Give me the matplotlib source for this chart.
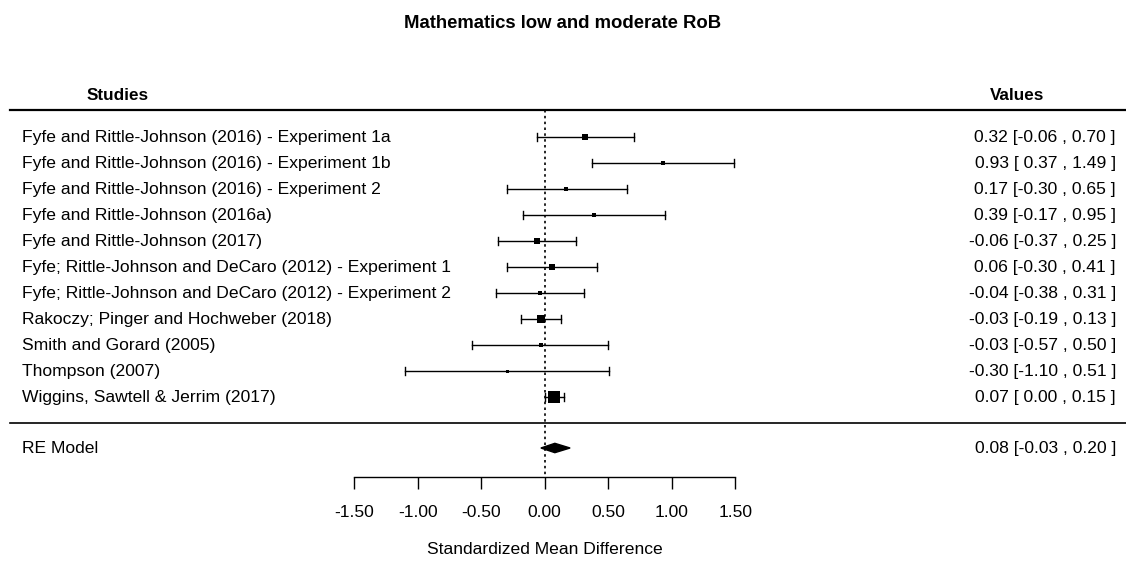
import matplotlib
matplotlib.use("Agg")
import matplotlib.pyplot as plt
from matplotlib.patches import Polygon

studies = [
    "Fyfe and Rittle-Johnson (2016) - Experiment 1a",
    "Fyfe and Rittle-Johnson (2016) - Experiment 1b",
    "Fyfe and Rittle-Johnson (2016) - Experiment 2",
    "Fyfe and Rittle-Johnson (2016a)",
    "Fyfe and Rittle-Johnson (2017)",
    "Fyfe; Rittle-Johnson and DeCaro (2012) - Experiment 1",
    "Fyfe; Rittle-Johnson and DeCaro (2012) - Experiment 2",
    "Rakoczy; Pinger and Hochweber (2018)",
    "Smith and Gorard (2005)",
    "Thompson (2007)",
    "Wiggins, Sawtell & Jerrim (2017)",
]
est = [0.32, 0.93, 0.17, 0.39, -0.06, 0.06, -0.04, -0.03, -0.03, -0.30, 0.07]
lo = [-0.06, 0.37, -0.30, -0.17, -0.37, -0.30, -0.38, -0.19, -0.57, -1.10, 0.00]
hi = [0.70, 1.49, 0.65, 0.95, 0.25, 0.41, 0.31, 0.13, 0.50, 0.51, 0.15]
weights = [5.7, 4.5, 4.0, 4.0, 6.0, 5.5, 5.0, 8.5, 4.0, 3.0, 12.0]
re_est, re_lo, re_hi = 0.08, -0.03, 0.20
ticks = [-1.5, -1.0, -0.5, 0.0, 0.5, 1.0, 1.5]

W, H = 1126, 561
fig = plt.figure(figsize=(W / 100, H / 100), dpi=100)
ax = fig.add_axes([0, 0, 1, 1])
x0px, scale = 544.7, 127.0
ax.set_xlim((0 - x0px) / scale, (W - x0px) / scale)
r0, dr = 137.0, 26.0
ax.set_ylim((H - r0) / dr, -r0 / dr)

def rowpx(p):
    return (p - r0) / dr

font = ["Liberation Sans", "DejaVu Sans"]
narrow = ["Liberation Sans Narrow", "Liberation Sans", "DejaVu Sans"]
fs = 12.6
xleft = (22 - x0px) / scale
xval = (1116 - x0px) / scale
xl_line = (10 - x0px) / scale
xr_line = (W - x0px) / scale

def fmt(v):
    s = f"{v:.2f}"
    return s if v < 0 else " " + s

for i, (s, e, l, h, w) in enumerate(zip(studies, est, lo, hi, weights)):
    ax.text(xleft, i, s, ha="left", va="center", fontsize=fs, family=font)
    ax.plot([l, h], [i, i], color="black", lw=1.0)
    for xx in (l, h):
        ax.plot([xx, xx], [i - 0.14, i + 0.14], color="black", lw=1.0)
    ax.plot([e], [i], marker="s", ms=w * 0.72, color="black", mec="black", mew=0)
    ax.text(xval, i, f"{e:.2f} [{fmt(l)} , {h:.2f} ]", ha="right", va="center",
            fontsize=fs, family=font)

yre = rowpx(448)
ax.text(xleft, yre, "RE Model", ha="left", va="center", fontsize=fs, family=font)
dh = 0.18
ax.add_patch(Polygon([[re_lo, yre], [re_est, yre - dh], [re_hi, yre], [re_est, yre + dh]],
                     closed=True, color="black"))
ax.text(xval, yre, f"{re_est:.2f} [{fmt(re_lo)} , {re_hi:.2f} ]", ha="right", va="center",
        fontsize=fs, family=font)

# lines
ax.plot([xl_line, xr_line], [rowpx(110)] * 2, color="black", lw=1.6)
ax.plot([xl_line, xr_line], [rowpx(423)] * 2, color="black", lw=1.2)
ax.plot([0, 0], [rowpx(110), rowpx(477)], color="black", lw=1.2, ls=(0, (1.5, 2.0)))

# headers and title
ax.text((117.5 - x0px) / scale, rowpx(95), "Studies", ha="center", va="center",
        fontsize=12.3, fontweight="bold", family=narrow)
ax.text((1017.5 - x0px) / scale, rowpx(95), "Values", ha="center", va="center",
        fontsize=12.3, fontweight="bold", family=narrow)
fig.text(563 / W, 1 - 23 / H, "Mathematics low and moderate RoB", ha="center", va="center",
         fontsize=13.3, fontweight="bold", family=narrow)

# x axis
for sp in ["top", "right", "left"]:
    ax.spines[sp].set_visible(False)
ax.spines["bottom"].set_position(("data", rowpx(477)))
ax.spines["bottom"].set_bounds(ticks[0], ticks[-1])
ax.spines["bottom"].set_linewidth(1.0)
ax.set_xticks(ticks)
ax.set_xticklabels([f"{t:.2f}" for t in ticks], fontsize=fs, family=font)
ax.tick_params(axis="x", direction="out", length=8.5, width=1.0, pad=12)
ax.set_yticks([])
ax.text(0, rowpx(549), "Standardized Mean Difference", ha="center", va="center",
        fontsize=fs, family=font)

fig.savefig("out.png", dpi=100)
